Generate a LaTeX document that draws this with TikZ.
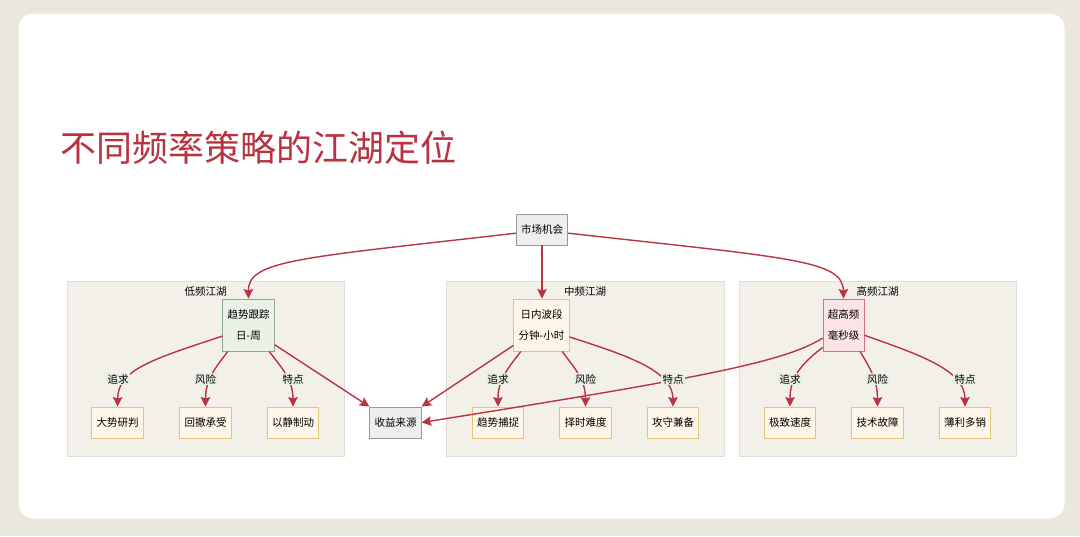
\documentclass[tikz,border=0pt]{standalone}
\usepackage{fontspec}
\setmainfont{Noto Sans CJK SC}
\usetikzlibrary{arrows.meta}

\definecolor{pagebg}{HTML}{EAE7E0}
\definecolor{cardline}{HTML}{F1E8CC}
\definecolor{jhred}{HTML}{B8323F}
\definecolor{edgered}{HTML}{B83445}
\definecolor{hufill}{HTML}{F3F0E9}
\definecolor{huline}{HTML}{E0DDD6}
\definecolor{grayfill}{HTML}{EEEEEE}
\definecolor{grayline}{HTML}{999999}
\definecolor{leaffill}{HTML}{FDF5E7}
\definecolor{leafline}{HTML}{E2C47E}
\definecolor{lowfill}{HTML}{E8F2E5}
\definecolor{lowline}{HTML}{8FA88C}
\definecolor{highfill}{HTML}{FBE3E6}
\definecolor{highline}{HTML}{D8707F}
\definecolor{lblbg}{HTML}{E9EFE3}

\tikzset{flow/.style={line width=1.4pt,draw=edgered,
    -{Stealth[length=9.5pt,width=9.5pt,inset=1.5pt]}}}
\tikzset{leafbox/.style={draw=leafline,fill=leaffill,line width=0.9pt,
    minimum height=31pt,inner xsep=4.75pt,inner ysep=0pt,
    font=\fontsize{10.5}{12}\selectfont}}
\tikzset{graybox/.style={leafbox,draw=grayline,fill=grayfill}}
\tikzset{mainbox/.style={leafbox,minimum height=52pt,align=center}}
\tikzset{elbl/.style={fill=lblbg,inner sep=1.5pt,
    font=\fontsize{10.5}{12}\selectfont}}
\tikzset{jianghu/.style={draw=huline,fill=hufill,line width=0.8pt}}
\tikzset{hutitle/.style={inner sep=1pt,font=\fontsize{10.5}{12}\selectfont}}

\begin{document}
\begin{tikzpicture}[x=1pt,y=-1pt]

\pgfmathsetmacro{\ymain}{325}
\pgfmathsetmacro{\ylbl}{379}
\pgfmathsetmacro{\yleaf}{422.5}
\pgfmathsetmacro{\yhu}{292}

% 背景とカード
\useasboundingbox (0,0) rectangle (1080,536);
\fill[pagebg] (0,0) rectangle (1080,536);
\draw[cardline,fill=white,line width=1pt,rounded corners=15pt]
    (18,13) rectangle (1065,519);

% タイトル
\node[anchor=west,inner sep=0pt,text=jhred,
    font=\fontsize{36}{40}\selectfont] (title) at (60,148)
    {不同频率策略的江湖定位};

% 三つの江湖
\draw[jianghu] (67,281) rectangle (344,456);
\draw[jianghu] (446,281) rectangle (724,456);
\draw[jianghu] (739,281) rectangle (1016,456);
\node[hutitle] (lowhu) at (205.5,\yhu) {低频江湖};
\node[hutitle] (midhu) at (585,\yhu) {中频江湖};
\node[hutitle] (highhu) at (877.5,\yhu) {高频江湖};

% 節点
\node[graybox] (market) at (542,229.5) {市场机会};
\node[mainbox,draw=lowline,fill=lowfill] (lmain) at (248.5,\ymain)
    {趋势跟踪\\[9pt]日-周};
\node[mainbox] (mmain) at (541.5,\ymain) {日内波段\\[9pt]分钟-小时};
\node[mainbox,draw=highline,fill=highfill] (hmain) at (843.5,\ymain)
    {超高频\\[9pt]毫秒级};

\node[leafbox] (ldsyp) at (117.5,\yleaf) {大势研判};
\node[leafbox] (lhccs) at (205.5,\yleaf) {回撤承受};
\node[leafbox] (ljzd) at (293,\yleaf) {以静制动};
\node[graybox] (income) at (395.5,\yleaf) {收益来源};
\node[leafbox] (mqscz) at (498,\yleaf) {趋势捕捉};
\node[leafbox] (mzsnd) at (585.5,\yleaf) {择时难度};
\node[leafbox] (mgsjb) at (673,\yleaf) {攻守兼备};
\node[leafbox] (hjzsd) at (790,\yleaf) {极致速度};
\node[leafbox] (hjsgz) at (877.5,\yleaf) {技术故障};
\node[leafbox] (hblds) at (965,\yleaf) {薄利多销};

% 市场机会から
\draw[flow]
    (market.188)..controls(300,258) and (248,260)..(lmain.north);
\draw[flow] (market.south) -- (market.south |- mmain.north);
\draw[flow]
    (market.-8)..controls(790,258) and (843,260)..(hmain.north);

% 低频
\draw[flow]
    (lmain.203)..controls(150,360) and (118,370)..(ldsyp.north);
\draw[flow]
    (lmain.232)..controls(215,368) and (205.5,380)..(lhccs.north);
\draw[flow]
    (lmain.308)..controls(282,368) and (293,380)..(ljzd.north);
\draw[flow] (lmain.-37) -- (income.north west);

% 中频
\draw[flow] (mmain.216) -- (income.north east);
\draw[flow]
    (mmain.232)..controls(508,368) and (498,380)..(mqscz.north);
\draw[flow]
    (mmain.308)..controls(576,370) and (585.5,380)..(mzsnd.north);
\draw[flow]
    (mmain.337)..controls(625,355) and (673,370)..(mgsjb.north);

% 高频
\draw[flow]
    (hmain.227)..controls(800,365) and (790,378)..(hjzsd.north);
\draw[flow]
    (hmain.302)..controls(870,368) and (877.5,380)..(hjsgz.north);
\draw[flow]
    (hmain.334)..controls(920,355) and (965,370)..(hblds.north);
\draw[flow]
    (hmain.212)..controls(785,362) and (700,378)..(income.east);

% 矢印の見出し
\node[elbl] (lzq) at (118,\ylbl) {追求};
\node[elbl] (lfx) at (205.5,\ylbl) {风险};
\node[elbl] (ltd) at (293,\ylbl) {特点};
\node[elbl] (mzq) at (498,\ylbl) {追求};
\node[elbl] (mfx) at (585.5,\ylbl) {风险};
\node[elbl] (mtd) at (673,\ylbl) {特点};
\node[elbl] (hzq) at (790,\ylbl) {追求};
\node[elbl] (hfx) at (877.5,\ylbl) {风险};
\node[elbl] (htd) at (965,\ylbl) {特点};

\end{tikzpicture}
\end{document}
